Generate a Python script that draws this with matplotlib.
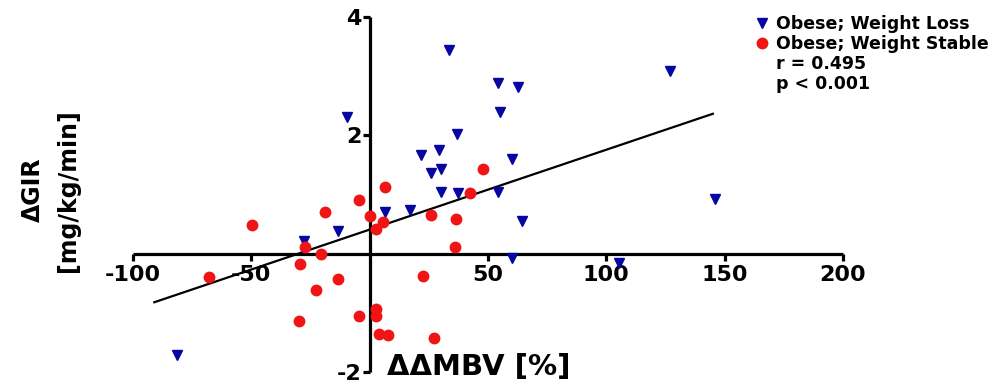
import numpy as np
import matplotlib.pyplot as plt
from matplotlib.lines import Line2D

# obese, weight loss (blue triangles)
loss_x = [-81.4, -27.9, -13.4, -9.6, 6.6, 16.9, 21.7, 25.8, 29.2, 30.1, 30.3, 33.7,
          36.9, 37.2, 54.2, 55.2, 54.2, 60.1, 60.1, 62.7, 64.4, 105.5, 127.1, 145.8]
loss_y = [-1.72, 0.21, 0.39, 2.31, 0.70, 0.74, 1.66, 1.37, 1.76, 1.43, 1.04, 3.44,
          2.03, 1.02, 2.88, 2.39, 1.05, 1.60, -0.08, 2.81, 0.56, -0.16, 3.08, 0.93]

# obese, weight stable (red circles)
stable_x = [-68.0, -49.5, -29.7, -29.3, -27.2, -22.5, -20.4, -19.0, -13.5, -4.4, -4.4,
            0.0, 2.8, 2.8, 2.8, 4.1, 5.5, 6.3, 7.6, 22.4, 26.1, 27.0, 36.2, 36.5, 42.6, 47.9]
stable_y = [-0.40, 0.49, -1.13, -0.17, 0.11, -0.61, -0.01, 0.71, -0.42, 0.91, -1.06,
            0.63, 0.41, -0.93, -1.05, -1.36, 0.53, 1.12, -1.38, -0.37, 0.66, -1.42,
            0.12, 0.59, 1.02, 1.43]

fit_slope = 0.0135
fit_intercept = 0.407
fit_range = [-91, 145]

x_ticks = [-100, -50, 50, 100, 150, 200]
y_ticks = [-2, 2, 4]

plt.rcParams['font.family'] = ['DejaVu Sans']
plt.rcParams['font.weight'] = 'bold'
plt.rcParams['axes.unicode_minus'] = False

blue = '#0606a0'
red = '#f01414'

fig = plt.figure(figsize=(9.96, 3.85), dpi=100)
ax = fig.add_axes([0.1335, 0.0338, 0.7129, 0.922])

fx = np.array(fit_range)
ax.plot(fx, fit_slope * fx + fit_intercept, color='black', lw=1.6, zorder=2)
ax.plot(loss_x, loss_y, 'v', color=blue, ms=7.5, ls='none', clip_on=False, zorder=3)
ax.plot(stable_x, stable_y, 'o', color=red, ms=7.5, ls='none', clip_on=False, zorder=3)

ax.set_xlim(-100, 200)
ax.set_ylim(-2, 4)
ax.spines['left'].set_position(('data', 0))
ax.spines['bottom'].set_position(('data', 0))
ax.spines['top'].set_visible(False)
ax.spines['right'].set_visible(False)
for s in ('left', 'bottom'):
    ax.spines[s].set_linewidth(2.3)
    ax.spines[s].set_capstyle('butt')

ax.set_xticks(x_ticks)
ax.set_yticks(y_ticks)
ax.tick_params(axis='both', width=2.3, length=5, labelsize=16)
ax.tick_params(axis='x', direction='out', pad=3)
ax.tick_params(axis='y', direction='out', pad=1)

fig.text(0.389, 0.048, 'ΔΔMBV [%]', fontsize=21, fontweight='bold', ha='left', va='center')
fig.text(0.051, 0.506, 'ΔGIR\n[mg/kg/min]', fontsize=17, fontweight='bold',
         rotation=90, ha='center', va='center', linespacing=1.6)

handles = [
    Line2D([], [], marker='v', color=blue, ls='none', ms=7.5),
    Line2D([], [], marker='o', color=red, ls='none', ms=7.5),
    Line2D([], [], ls='none'),
    Line2D([], [], ls='none'),
]
labels = ['Obese; Weight Loss', 'Obese; Weight Stable', 'r = 0.495', 'p < 0.001']
fig.legend(handles, labels, loc='upper left', bbox_to_anchor=(0.756, 0.96),
           frameon=False, fontsize=12.5, handlelength=1.0, handletextpad=0.3,
           labelspacing=0.1, borderpad=0, borderaxespad=0)

fig.savefig('out.png', dpi=100)
